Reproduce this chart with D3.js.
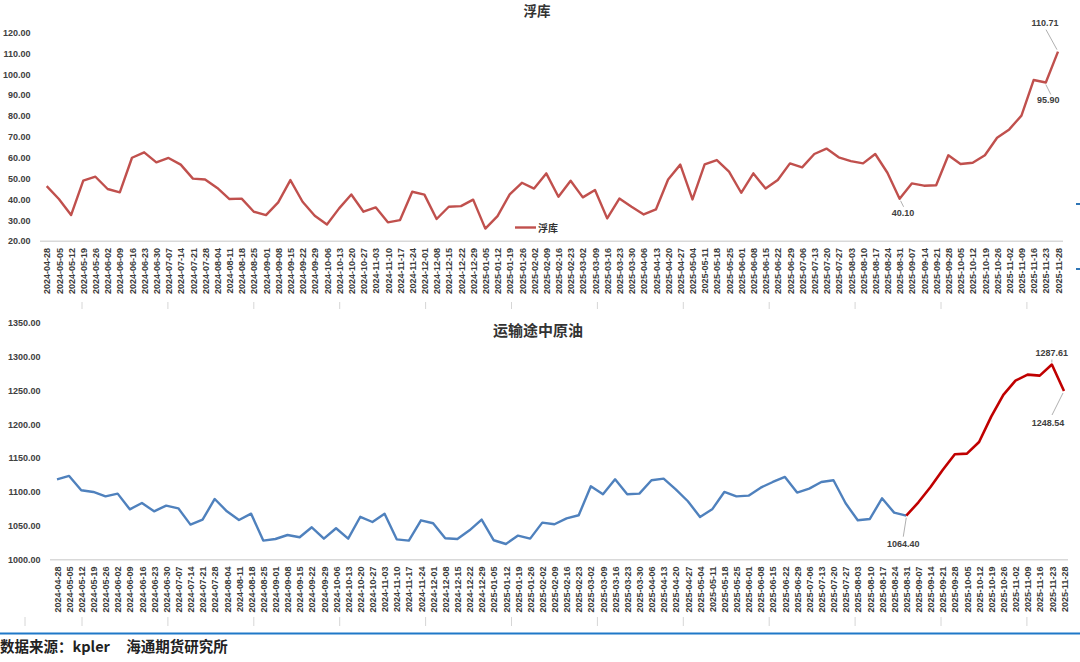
<!DOCTYPE html>
<html>
<head>
<meta charset="utf-8">
<script src="https://cdn.jsdelivr.net/npm/d3@7"></script>
<style>
  html, body { margin: 0; padding: 0; background: #ffffff; }
  svg { display: block; }
</style>
</head>
<body>
<svg id="chart" width="1080" height="662"></svg>
<script>
// Weekly dates shared by both panels
const dates = [
  "2024-04-28","2024-05-05","2024-05-12","2024-05-19","2024-05-26","2024-06-02","2024-06-09","2024-06-16",
  "2024-06-23","2024-06-30","2024-07-07","2024-07-14","2024-07-21","2024-07-28","2024-08-04","2024-08-11",
  "2024-08-18","2024-08-25","2024-09-01","2024-09-08","2024-09-15","2024-09-22","2024-09-29","2024-10-06",
  "2024-10-13","2024-10-20","2024-10-27","2024-11-03","2024-11-10","2024-11-17","2024-11-24","2024-12-01",
  "2024-12-08","2024-12-15","2024-12-22","2024-12-29","2025-01-05","2025-01-12","2025-01-19","2025-01-26",
  "2025-02-02","2025-02-09","2025-02-16","2025-02-23","2025-03-02","2025-03-09","2025-03-16","2025-03-23",
  "2025-03-30","2025-04-06","2025-04-13","2025-04-20","2025-04-27","2025-05-04","2025-05-11","2025-05-18",
  "2025-05-25","2025-06-01","2025-06-08","2025-06-15","2025-06-22","2025-06-29","2025-07-06","2025-07-13",
  "2025-07-20","2025-07-27","2025-08-03","2025-08-10","2025-08-17","2025-08-24","2025-08-31","2025-09-07",
  "2025-09-14","2025-09-21","2025-09-28","2025-10-05","2025-10-12","2025-10-19","2025-10-26","2025-11-02",
  "2025-11-09","2025-11-16","2025-11-23","2025-11-28"
];

// 浮库 (floating storage)
const floatingStorage = [
  46.2, 40.0, 32.3, 48.8, 50.7, 44.8, 43.2, 59.8, 62.4, 57.6, 59.7, 56.5, 49.8, 49.4, 45.3, 40.0,
  40.2, 33.9, 32.3, 38.4, 49.1, 38.7, 32.0, 27.8, 35.5, 42.2, 33.9, 36.0, 28.8, 29.9, 43.5, 42.1,
  30.4, 36.3, 36.6, 39.7, 25.8, 31.8, 42.2, 47.8, 45.0, 52.3, 41.1, 48.8, 40.8, 44.3, 30.7, 40.2,
  36.3, 32.6, 35.0, 49.4, 56.5, 39.8, 56.6, 58.7, 53.1, 43.0, 52.3, 45.0, 49.1, 57.1, 55.2, 61.6,
  64.2, 60.0, 58.2, 57.1, 61.6, 52.6, 40.10, 47.5, 46.4, 46.6, 61.0, 56.8, 57.4, 61.0, 69.4, 73.4,
  80.0, 97.1, 95.90, 110.71
];

// 运输途中原油 (crude oil in transit)
const inTransit = [
  1118.1, 1123.1, 1101.9, 1099.4, 1093.0, 1097.0, 1073.8, 1083.2, 1070.9, 1079.3, 1075.3, 1051.2,
  1058.6, 1089.1, 1070.9, 1058.1, 1067.4, 1027.6, 1030.0, 1035.9, 1032.5, 1047.3, 1030.5, 1045.8,
  1030.5, 1062.8, 1055.1, 1067.4, 1029.5, 1027.6, 1057.6, 1053.2, 1031.0, 1030.0, 1042.8, 1058.6,
  1028.1, 1022.6, 1035.0, 1030.5, 1054.2, 1051.7, 1060.5, 1065.0, 1107.8, 1096.0, 1118.1, 1096.0,
  1097.0, 1116.7, 1119.1, 1103.4, 1085.7, 1062.5, 1073.8, 1099.4, 1093.0, 1094.0, 1105.8, 1114.2,
  1121.6, 1098.5, 1104.4, 1114.2, 1116.7, 1082.7, 1057.6, 1059.6, 1090.1, 1068.9, 1064.40, 1084.2,
  1106.8, 1131.9, 1155.1, 1156.1, 1173.3, 1210.7, 1242.7, 1263.9, 1272.7, 1271.2, 1287.61, 1248.54
];

const floatTicks = [20, 30, 40, 50, 60, 70, 80, 90, 100, 110, 120];
const transitTicks = [1000, 1050, 1100, 1150, 1200, 1250, 1300, 1350];

// Highlighted stretch of the in-transit series starts at this date
const highlightFrom = "2025-08-31";

const floatLabels = ["2025-08-31", "2025-11-23", "2025-11-28"];
const transitLabels = ["2025-08-31", "2025-11-23", "2025-11-28"];

const svg = d3.select("#chart");
const fmt = d3.format(".2f");
const tickFont = "'Liberation Sans', Arial, sans-serif";
const cjkFont = "'Noto Sans CJK SC', sans-serif";

// Spreadsheet cell borders visible around the lower panel
const cellX = [25].concat(d3.range(82, 1080, 85.9));
svg.append("g").selectAll("line").data(cellX.slice(1)).join("line")
  .attr("x1", d => d).attr("x2", d => d).attr("y1", 302).attr("y2", 309)
  .attr("stroke", "#d6d6d6").attr("stroke-width", 1);
svg.append("g").selectAll("line").data(cellX).join("line")
  .attr("x1", d => d).attr("x2", d => d).attr("y1", 617).attr("y2", 626)
  .attr("stroke", "#d6d6d6").attr("stroke-width", 1);

function panel(cfg) {
  const x = d3.scalePoint().domain(dates).range(cfg.xRange);
  const y = d3.scaleLinear().domain(cfg.yDomain).range(cfg.yRange);
  const g = svg.append("g");

  // title
  g.append("text")
    .attr("x", cfg.titleX).attr("y", cfg.titleY)
    .attr("text-anchor", "middle")
    .attr("font-family", cjkFont).attr("font-weight", 700)
    .attr("font-size", cfg.titleSize).attr("fill", "#333")
    .text(cfg.title);

  // y axis labels (no axis line)
  const yAxis = d3.axisLeft(y).tickValues(cfg.ticks).tickFormat(fmt).tickSize(0).tickPadding(0);
  const ya = g.append("g").attr("transform", `translate(${cfg.yLabelX},0)`).call(yAxis);
  ya.select(".domain").remove();
  ya.selectAll("text")
    .attr("font-family", tickFont).attr("font-size", 9).attr("font-weight", 700)
    .attr("fill", "#404040").attr("dy", "0.35em");

  // x axis baseline
  g.append("line")
    .attr("x1", cfg.baseX[0]).attr("x2", cfg.baseX[1])
    .attr("y1", y(cfg.yDomain[0]) + 0.5).attr("y2", y(cfg.yDomain[0]) + 0.5)
    .attr("stroke", "#d9d9d9").attr("stroke-width", 1.5);

  // rotated date labels
  const xAxis = d3.axisBottom(x).tickSize(0).tickPadding(0);
  const xa = g.append("g").attr("transform", `translate(0,${cfg.xLabelY})`).call(xAxis);
  xa.select(".domain").remove();
  xa.selectAll("text")
    .attr("font-family", tickFont).attr("font-size", 9).attr("font-weight", 700)
    .attr("fill", "#3a3a3a")
    .attr("text-anchor", "end")
    .attr("transform", "rotate(-90)")
    .attr("x", 0).attr("y", 0).attr("dy", "0.35em");

  return { x, y, g };
}

// ---------- upper panel: 浮库 ----------
const upper = panel({
  title: "浮库", titleX: 537, titleY: 16, titleSize: 13.5,
  xRange: [46.7, 1058], yDomain: [20, 120], yRange: [240.7, 32.3],
  ticks: floatTicks, yLabelX: 30.5, baseX: [40, 1063], xLabelY: 248
});

const floatData = dates.map((d, i) => ({ d, v: floatingStorage[i] }));
upper.g.append("path")
  .datum(floatData)
  .attr("fill", "none").attr("stroke", "#c0504d").attr("stroke-width", 2.4)
  .attr("stroke-linejoin", "round")
  .attr("d", d3.line().x(p => upper.x(p.d)).y(p => upper.y(p.v)));

// legend
upper.g.append("line").attr("x1", 515).attr("x2", 536).attr("y1", 227.5).attr("y2", 227.5)
  .attr("stroke", "#c0504d").attr("stroke-width", 2.4);
upper.g.append("text").attr("x", 538).attr("y", 231.5)
  .attr("font-family", cjkFont).attr("font-weight", 700).attr("font-size", 10).attr("fill", "#333")
  .text("浮库");

// value callouts: leader start/end and label position, relative to the point
const floatCallouts = {
  "2025-08-31": { from: [1, 2], to: [4, 8], lbl: [3.5, 17.5] },
  "2025-11-23": { from: [0, 2], to: [5, 12], lbl: [2.5, 20] },
  "2025-11-28": { from: [-1, -2], to: [-12, -22], lbl: [-13, -25.5] }
};
floatLabels.forEach(d => {
  const i = dates.indexOf(d);
  const px = upper.x(d), py = upper.y(floatingStorage[i]);
  const c = floatCallouts[d];
  upper.g.append("line")
    .attr("x1", px + c.from[0]).attr("y1", py + c.from[1])
    .attr("x2", px + c.to[0]).attr("y2", py + c.to[1])
    .attr("stroke", "#b0b0b0").attr("stroke-width", 1);
  upper.g.append("text")
    .attr("x", px + c.lbl[0]).attr("y", py + c.lbl[1])
    .attr("text-anchor", "middle")
    .attr("font-family", tickFont).attr("font-size", 9).attr("font-weight", 700).attr("fill", "#404040")
    .text(fmt(floatingStorage[i]));
});

// small blue marks at the right edge
[204, 269].forEach(yy => {
  svg.append("line").attr("x1", 1076).attr("x2", 1080).attr("y1", yy).attr("y2", yy)
    .attr("stroke", "#2e75b6").attr("stroke-width", 2);
});

// ---------- lower panel: 运输途中原油 ----------
const lower = panel({
  title: "运输途中原油", titleX: 538, titleY: 335.5, titleSize: 15,
  xRange: [57, 1064], yDomain: [1000, 1350], yRange: [559.3, 322.3],
  ticks: transitTicks, yLabelX: 40.5, baseX: [50, 1068], xLabelY: 566.5
});

const transitData = dates.map((d, i) => ({ d, v: inTransit[i] }));
const hi = dates.indexOf(highlightFrom);
const tLine = d3.line().x(p => lower.x(p.d)).y(p => lower.y(p.v));
lower.g.append("path")
  .datum(transitData.slice(0, hi + 1))
  .attr("fill", "none").attr("stroke", "#4f81bd").attr("stroke-width", 2.4)
  .attr("stroke-linejoin", "round").attr("d", tLine);
lower.g.append("path")
  .datum(transitData.slice(hi))
  .attr("fill", "none").attr("stroke", "#c00000").attr("stroke-width", 2.6)
  .attr("stroke-linejoin", "round").attr("d", tLine);

const transitCallouts = {
  "2025-08-31": { from: [0, 2], to: [-3, 21], lbl: [-3, 31.5] },
  "2025-11-23": { from: [0, -2], to: [0, -5], lbl: [0, -9] },
  "2025-11-28": { from: [-1, 2], to: [-12, 24], lbl: [-16, 34.5] }
};
transitLabels.forEach(d => {
  const i = dates.indexOf(d);
  const px = lower.x(d), py = lower.y(inTransit[i]);
  const c = transitCallouts[d];
  lower.g.append("line")
    .attr("x1", px + c.from[0]).attr("y1", py + c.from[1])
    .attr("x2", px + c.to[0]).attr("y2", py + c.to[1])
    .attr("stroke", "#b0b0b0").attr("stroke-width", 1);
  lower.g.append("text")
    .attr("x", px + c.lbl[0]).attr("y", py + c.lbl[1])
    .attr("text-anchor", "middle")
    .attr("font-family", tickFont).attr("font-size", 9).attr("font-weight", 700).attr("fill", "#404040")
    .text(fmt(inTransit[i]));
});

// ---------- footer ----------
svg.append("line").attr("x1", 0).attr("x2", 1080).attr("y1", 633.5).attr("y2", 633.5)
  .attr("stroke", "#1f78c8").attr("stroke-width", 2);
svg.append("text").attr("x", 0).attr("y", 652)
  .attr("font-family", cjkFont).attr("font-weight", 700).attr("font-size", 14.5).attr("fill", "#222")
  .attr("xml:space", "preserve")
  .text("数据来源：kpler     海通期货研究所");
</script>
</body>
</html>
